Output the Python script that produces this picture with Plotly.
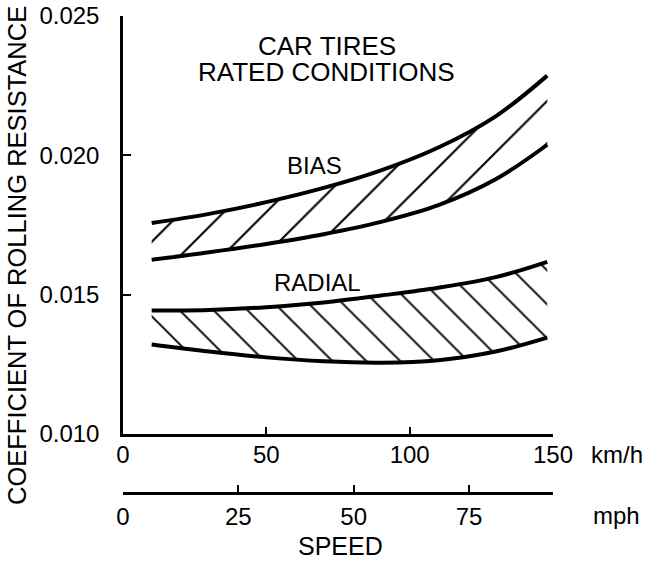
import plotly.graph_objects as go

# ---- data (km/h, coefficient of rolling resistance) ----
speed_kmh = [10, 30, 50, 70, 90, 110, 130, 148]
bias_upper = [0.01757, 0.01790, 0.01832, 0.01883, 0.01946, 0.02028, 0.02140, 0.02286]
bias_lower = [0.01625, 0.01652, 0.01682, 0.01717, 0.01761, 0.01821, 0.01914, 0.02038]
radial_upper = [0.01443, 0.01445, 0.01455, 0.01472, 0.01497, 0.01525, 0.01563, 0.01618]
radial_lower = [0.01321, 0.01296, 0.01275, 0.01261, 0.01256, 0.01265, 0.01296, 0.01346]

kmh_ticks = [0, 50, 100, 150]
mph_ticks = [0, 25, 50, 75]
y_ticks = [0.010, 0.015, 0.020, 0.025]
y_ticklabels = ["0.010", "0.015", "0.020", "0.025"]
KMH_PER_MPH = 1.609344

FONT = "Liberation Sans, Arial, Helvetica, sans-serif"
FS = 24

W, H = 647, 561
L, R, T, B = 123, 94, 16, 68
x_axis_px = 434  # pixel row of km/h axis
plot_h = H - T - B
ydom0 = (H - B - x_axis_px) / plot_h


def px(xp):
    return (xp - L) / (W - L - R)


def py(yp):
    return (H - B - yp) / plot_h


fig = go.Figure()

curve_line = dict(color="black", width=4, shape="spline", smoothing=1.0)

fig.add_trace(go.Scatter(x=speed_kmh, y=bias_lower, mode="lines", line=curve_line,
                         showlegend=False, hoverinfo="skip"))
fig.add_trace(go.Scatter(x=speed_kmh, y=bias_upper, mode="lines", line=curve_line,
                         fill="tonexty", fillcolor="rgba(0,0,0,0)",
                         fillpattern=dict(shape="/", size=30, solidity=0.07,
                                          fgcolor="black", fgopacity=1,
                                          bgcolor="rgba(0,0,0,0)"),
                         showlegend=False, hoverinfo="skip"))
fig.add_trace(go.Scatter(x=speed_kmh, y=radial_lower, mode="lines", line=curve_line,
                         showlegend=False, hoverinfo="skip"))
fig.add_trace(go.Scatter(x=speed_kmh, y=radial_upper, mode="lines", line=curve_line,
                         fill="tonexty", fillcolor="rgba(0,0,0,0)",
                         fillpattern=dict(shape="\\", size=24, solidity=0.08,
                                          fgcolor="black", fgopacity=1,
                                          bgcolor="rgba(0,0,0,0)"),
                         showlegend=False, hoverinfo="skip"))
# invisible trace to carry the mph axis
fig.add_trace(go.Scatter(x=mph_ticks, y=[None] * len(mph_ticks), xaxis="x2", yaxis="y",
                         mode="markers", showlegend=False, hoverinfo="skip"))

axis_font = dict(family=FONT, size=FS, color="black")

fig.update_layout(
    template="none",
    width=W, height=H,
    margin=dict(l=L, r=R, t=T, b=B, pad=0, autoexpand=False),
    paper_bgcolor="white", plot_bgcolor="white",
    font=axis_font,
    xaxis=dict(range=[0, 150], tickvals=kmh_ticks, ticks="inside", ticklen=7, tickwidth=2,
               tickcolor="black", showline=True, linewidth=2.5, linecolor="black",
               showgrid=False, zeroline=False, tickfont=axis_font, ticklabelstandoff=-3,
               anchor="y", automargin=False),
    xaxis2=dict(range=[0, 150 / KMH_PER_MPH], tickvals=mph_ticks, ticks="inside", ticklen=7,
                tickwidth=2, tickcolor="black", showline=True, linewidth=2.5,
                linecolor="black", showgrid=False, zeroline=False, tickfont=axis_font,
                overlaying="x", anchor="free", position=0, side="bottom",
                ticklabelstandoff=1, automargin=False),
    yaxis=dict(range=[0.010, 0.025], domain=[ydom0, 1], tickvals=y_ticks,
               ticktext=y_ticklabels, ticks="inside", ticklen=8, tickwidth=2,
               tickcolor="black", showline=True, linewidth=2.5, linecolor="black",
               showgrid=False, zeroline=False, tickfont=axis_font, ticklabelstandoff=16,
               automargin=False),
)

ann = [
    ("CAR TIRES", 327, 46, 0, 26),
    ("RATED CONDITIONS", 326, 72, 0, 26),
    ("BIAS", 314, 165, 0, 24),
    ("RADIAL", 317, 282, 0, 24),
    ("km/h", 617, 454, 0, 24),
    ("mph", 616, 515, 0, 24),
    ("SPEED", 340, 546, 0, 25),
    ("COEFFICIENT OF ROLLING RESISTANCE", 17, 256, -90, 25.5),
]
for text, xx, yy, ang, fs in ann:
    fig.add_annotation(text=text, xref="paper", yref="paper", x=px(xx), y=py(yy),
                       xanchor="center", yanchor="middle", showarrow=False,
                       textangle=ang, font=dict(family=FONT, size=fs, color="black"))

fig.write_html("out.html", config={"displayModeBar": False},
               post_script="document.body.style.margin='0';document.body.style.padding='0';")
